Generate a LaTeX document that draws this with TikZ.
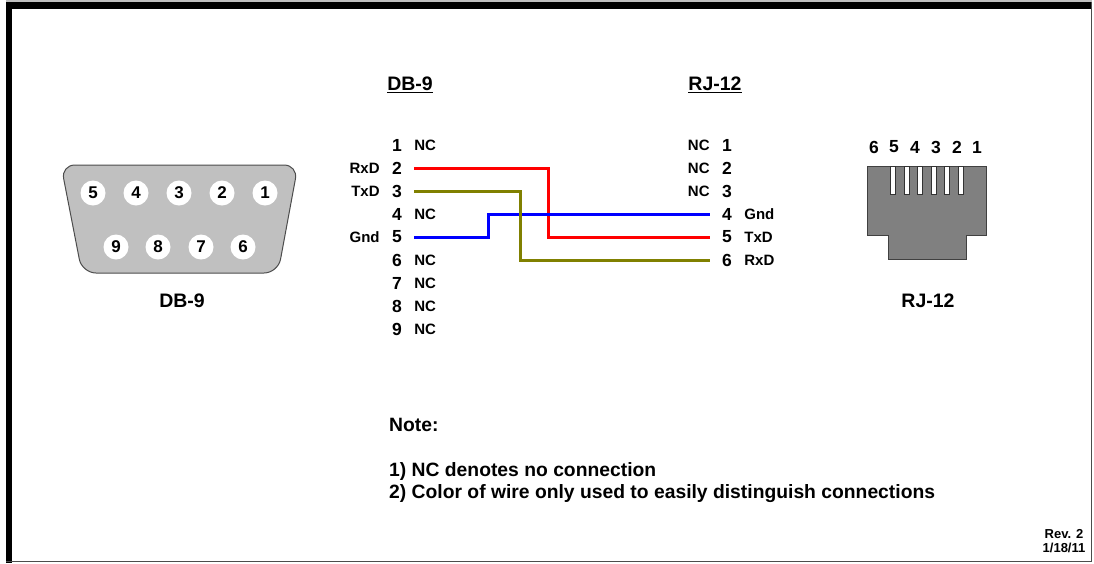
\documentclass[tikz,border=0pt]{standalone}
\usepackage{fontspec}
\setmainfont{Liberation Sans}
\definecolor{olivewire}{RGB}{128,128,0}
\definecolor{shellgray}{RGB}{192,192,192}
\newcommand{\fs}[1]{\fontsize{#1}{#1}\selectfont\bfseries}

\begin{document}
\begin{tikzpicture}[x=1pt,y=-1pt,
  pin/.style={inner sep=0pt, minimum width=34pt, font=\fs{17.5}},
  sig/.style={inner sep=0pt, font=\fs{15}},
  hole/.style={circle, fill=white, inner sep=0pt, minimum size=25pt, font=\fs{17}},
  title/.style={font=\fs{19.5}},
  note/.style={inner sep=0pt, anchor=west, font=\fs{19.3}},
  wire/.style={line width=3pt}]
  \useasboundingbox (0,0) rectangle (1094,563);
  \fill[black!25] (6,0) rectangle (1092,2);
  \fill (6,2) rectangle (1092,9);
  \fill (6,2) rectangle (12,563);
  \draw[line width=1.5pt, black!70] (1091.5,2) -- (1091.5,561.5) -- (6,561.5);

  \draw[fill=shellgray, draw=black!70, line width=1pt, rounded corners=14pt]
    (61,165) -- (298,165) -- (278,273) -- (82,273) -- cycle;
  \foreach \n/\x in {5/93,4/136,3/179,2/222,1/265} \node[hole] (h\n) at (\x,193) {\n};
  \foreach \n/\x in {9/116,8/158,7/201,6/243} \node[hole] (h\n) at (\x,247) {\n};
  \node[title] (dbname) at (182,301) {DB-9};

  \draw[fill=gray, draw=black!75, line width=1pt]
    (867,166) -- (986,166) -- (986,235) -- (966,235) -- (966,259) -- (888,259) -- (888,235) -- (867,235) -- cycle;
  \foreach \x in {893,906.5,920,933.5,947,960.5}
    \draw[fill=white, draw=black!80, line width=0.6pt] (\x-2.5,166) rectangle (\x+2.5,194);
  \foreach \n/\x in {6/874,5/894,4/915,3/936,2/957,1/977} \node[font=\fs{17.5}] (rj\n) at (\x,147) {\n};
  \node[title] (rjname) at (928,301) {RJ-12};

  \node[title] (dbhead) at (410,85) {\underline{DB-9}};
  \node[title] (rjhead) at (715,85) {\underline{RJ-12}};
  \foreach \n in {1,...,9} \node[pin] (l\n) at (397,{122+23*\n}) {\n};
  \foreach \n in {1,...,6} \node[pin] (r\n) at (727,{122+23*\n}) {\n};
  \foreach \n in {1,4,6,7,8,9} \node[sig, anchor=west] (lnc\n) at (l\n.east) {NC};
  \foreach \n in {1,2,3} \node[sig, anchor=east] (rnc\n) at (r\n.west) {NC};
  \node[sig, anchor=east] (lrx) at (l2.west) {RxD};
  \node[sig, anchor=east] (ltx) at (l3.west) {TxD};
  \node[sig, anchor=east] (lgnd) at (l5.west) {Gnd};
  \node[sig, anchor=west] (rgnd) at (r4.east) {Gnd};
  \node[sig, anchor=west] (rtx) at (r5.east) {TxD};
  \node[sig, anchor=west] (rrx) at (r6.east) {RxD};

  \draw[wire, red] (l2.east) -- ++(134,0) |- (r5.west);
  \draw[wire, blue] (l5.east) -- ++(74,0) |- (r4.west);
  \draw[wire, olivewire] (l3.east) -- ++(106,0) |- (r6.west);

  \node[note] (note) at (389,425) {Note:};
  \node[note] (note1) at (389,471) {1) NC denotes no connection};
  \node[note] (note2) at (389,494) {2) Color of wire only used to easily distinguish connections};
  \node[font={\fontsize{13}{14.5}\selectfont\bfseries}, align=center, inner sep=0pt] (rev) at (1064,541) {Rev. 2\\1/18/11};
\end{tikzpicture}
\end{document}
